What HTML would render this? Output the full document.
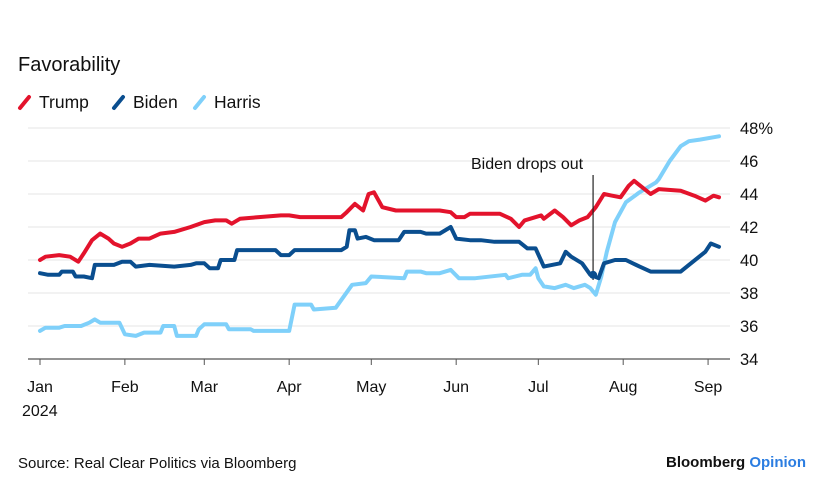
<!DOCTYPE html>
<html><head><meta charset="utf-8"><style>
body{margin:0;background:#fff;font-family:"Liberation Sans",Arial,sans-serif;}
svg text{font-family:"Liberation Sans",Arial,sans-serif;}
</style></head><body>
<svg width="828" height="496" viewBox="0 0 828 496">
<text x="18" y="71" font-size="20" fill="#111">Favorability</text>
<g>
<g><line x1="20" y1="108" x2="29" y2="97" stroke="#e3132c" stroke-width="4" stroke-linecap="round"/><text x="39" y="108" font-size="17.5" fill="#111">Trump</text></g>
<g><line x1="114" y1="108" x2="123" y2="97" stroke="#0a4e8f" stroke-width="4" stroke-linecap="round"/><text x="133" y="108" font-size="17.5" fill="#111">Biden</text></g>
<g><line x1="195" y1="108" x2="204" y2="97" stroke="#7fd0fa" stroke-width="4" stroke-linecap="round"/><text x="214" y="108" font-size="17.5" fill="#111">Harris</text></g>
</g>
<g id="grid"></g>
<g id="yt"></g>
<g id="xt"></g>
<g id="series"></g>
<text x="18" y="468" font-size="15" fill="#111">Source: Real Clear Politics via Bloomberg</text>
<text x="806" y="467" font-size="15" font-weight="bold" text-anchor="end" fill="#111">Bloomberg <tspan fill="#2b7de1">Opinion</tspan></text>
</svg>
<script>
const yTicks=[34,36,38,40,42,44,46,48];
const xLabels=["Jan","Feb","Mar","Apr","May","Jun","Jul","Aug","Sep"];
const xLabelDays=[0,31,60,91,121,152,182,213,244];
const dropDay=202;
const trumpDays=[0,2,7,11,14,16,19,22,25,27,30,33,36,40,44,49,55,60,64,68,70,73,80,88,91,95,110,112,115,118,120,122,125,130,139,146,150,152,155,157,168,172,175,177,183,184,188,191,194,197,200,203,206,209,212,215,217,220,223,226,234,239,243,246,248];
const trumpVals=[40.0,40.2,40.3,40.2,39.9,40.4,41.2,41.6,41.3,41.0,40.8,41.0,41.3,41.3,41.6,41.7,42.0,42.3,42.4,42.4,42.2,42.5,42.6,42.7,42.7,42.6,42.6,42.9,43.4,43.0,44.0,44.1,43.2,43.0,43.0,43.0,42.9,42.6,42.6,42.8,42.8,42.5,42.0,42.4,42.7,42.5,43.0,42.6,42.1,42.4,42.6,43.2,44.0,43.9,43.8,44.5,44.8,44.4,44.0,44.3,44.2,43.9,43.6,43.9,43.8];
const bidenDays=[0,3,7,8,12,13,16,19,20,27,30,33,35,40,49,55,57,60,62,65,66,71,72,86,88,91,93,110,112,113,115,116,119,122,131,133,139,141,146,150,152,157,161,166,175,178,181,184,190,192,194,198,201,204,206,210,214,219,223,230,234,237,243,245,248];
const bidenVals=[39.2,39.1,39.1,39.3,39.3,39.0,39.0,38.9,39.7,39.7,39.9,39.9,39.6,39.7,39.6,39.7,39.8,39.8,39.5,39.5,40.0,40.0,40.6,40.6,40.3,40.3,40.6,40.6,40.8,41.8,41.8,41.3,41.4,41.2,41.2,41.7,41.7,41.6,41.6,42.0,41.3,41.2,41.2,41.1,41.1,40.7,40.7,39.6,39.8,40.5,40.2,39.8,39.1,38.9,39.8,40.0,40.0,39.6,39.3,39.3,39.3,39.7,40.5,41.0,40.8];
const harrisDays=[0,2,7,9,15,18,20,22,29,31,35,38,44,45,49,50,57,58,60,68,69,77,78,91,93,99,100,108,111,114,119,121,133,134,139,141,146,150,153,159,170,171,176,179,181,182,184,188,192,195,199,201,203,205,207,210,214,219,225,226,230,234,237,241,248];
const harrisVals=[35.7,35.9,35.9,36.0,36.0,36.2,36.4,36.2,36.2,35.5,35.4,35.6,35.6,36.0,36.0,35.4,35.4,35.8,36.1,36.1,35.8,35.8,35.7,35.7,37.3,37.3,37.0,37.1,37.8,38.5,38.6,39.0,38.9,39.3,39.3,39.2,39.2,39.4,38.9,38.9,39.1,38.9,39.1,39.1,39.5,38.9,38.4,38.3,38.5,38.3,38.5,38.3,37.9,39.0,40.5,42.3,43.5,44.1,44.7,44.9,46.0,46.9,47.2,47.3,47.5];

const X=d=>40+d*2.738;
const Y=v=>359-(v-34)*16.5;
const NS="http://www.w3.org/2000/svg";
function mk(tag,attrs,parent,txt){const e=document.createElementNS(NS,tag);for(const k in attrs)e.setAttribute(k,attrs[k]);if(txt!==undefined)e.textContent=txt;parent.appendChild(e);return e;}
const grid=document.getElementById('grid'),yt=document.getElementById('yt'),xt=document.getElementById('xt'),ser=document.getElementById('series');
yTicks.forEach((t,i)=>{
  const l=mk('line',{x1:28,x2:730,y1:Y(t),y2:Y(t),stroke:t===34?'#555':'#e6e6e6','stroke-width':t===34?1.2:1},grid);
  
  
  const tx=mk('text',{x:740,y:Y(t)+6,'font-size':16.5,fill:'#111'},yt,t+(i===yTicks.length-1?'%':''));
  
  
});
xLabels.forEach((lab,i)=>{
  const x=X(xLabelDays[i]);
  const tk=mk('line',{x1:x,x2:x,y1:359,y2:365,stroke:'#555'},xt);
  
  
  const tx=mk('text',{x:x,y:392,'font-size':16,fill:'#111','text-anchor':'middle'},xt,lab);
  
  
});
const yr=mk('text',{x:22,y:416,'font-size':16,fill:'#111'},xt,'2024');


function line(days,vals,color,name){
  const p=mk('polyline',{points:days.map((d,i)=>X(d).toFixed(1)+','+Y(vals[i]).toFixed(1)).join(' '),fill:'none',stroke:color,'stroke-width':4,'stroke-linejoin':'round','stroke-linecap':'round'},ser);
  
  
}
line(harrisDays,harrisVals,'#7fd0fa','harris-line');
line(bidenDays,bidenVals,'#0a4e8f','biden-line');
line(trumpDays,trumpVals,'#e3132c','trump-line');
const ax=X(dropDay);
const al=mk('line',{x1:ax,x2:ax,y1:175,y2:280,stroke:'#222','stroke-width':1.2},ser);


const dot=mk('circle',{cx:ax,cy:Y(39.1),r:4,fill:'#0a4e8f'},ser);


const at=mk('text',{x:ax-10,y:169,'font-size':16,fill:'#111','text-anchor':'end'},ser,'Biden drops out');


</script>
</body></html>
